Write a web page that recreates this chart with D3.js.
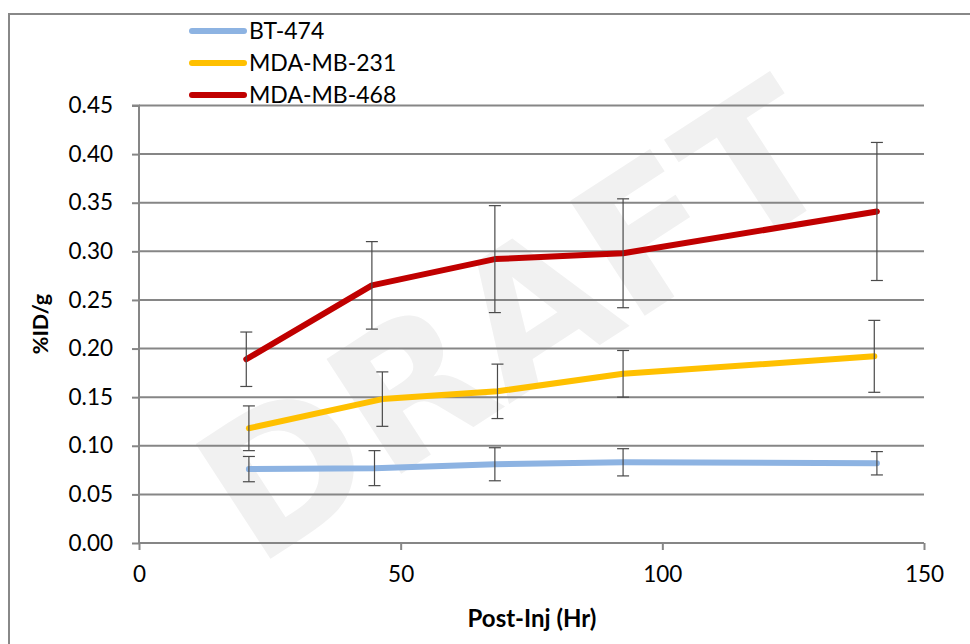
<!DOCTYPE html>
<html><head><meta charset="utf-8">
<script src="https://cdn.jsdelivr.net/npm/d3@7"></script>
<style>body{margin:0;background:#fff;} svg{display:block;} text{font-family:Lato,"Open Sans",sans-serif;}</style>
</head><body>
<svg id="chart" width="970" height="644"></svg>
<script>
const seriesNames = ["BT-474", "MDA-MB-231", "MDA-MB-468"];
const seriesColors = ["#8DB3E2", "#FFC000", "#C00000"];
const hoursBT474 = [21, 45, 68, 92.5, 141];
const hours231 = [21, 46.5, 68.5, 92.5, 140.5];
const hours468 = [20.5, 44.5, 68, 92.5, 141];
const valuesBT474 = [0.076, 0.077, 0.081, 0.083, 0.082];
const values231 = [0.118, 0.148, 0.156, 0.174, 0.192];
const values468 = [0.189, 0.265, 0.292, 0.298, 0.341];
const errBT474 = [0.013, 0.018, 0.017, 0.014, 0.012];
const err231 = [0.023, 0.028, 0.028, 0.024, 0.037];
const err468 = [0.028, 0.045, 0.055, 0.056, 0.071];
const xTicks = [0, 50, 100, 150];
const yTicks = [0, 0.05, 0.10, 0.15, 0.20, 0.25, 0.30, 0.35, 0.40, 0.45];
const xTitle = "Post-Inj (Hr)";
const yTitle = "%ID/g";
const watermark = "DRAFT";

const series = [
  {name: seriesNames[0], color: seriesColors[0], x: hoursBT474, y: valuesBT474, e: errBT474},
  {name: seriesNames[1], color: seriesColors[1], x: hours231, y: values231, e: err231},
  {name: seriesNames[2], color: seriesColors[2], x: hours468, y: values468, e: err468}
];

const svg = d3.select("#chart");
const x = d3.scaleLinear().domain([0, 150]).range([139, 924]);
const y = d3.scaleLinear().domain([0, 0.45]).range([543, 105.5]);

// watermark (faint, kept inside the page)
svg.append("text").text(watermark)
  .attr("transform", "translate(515,322) rotate(-33)")
  .attr("text-anchor", "middle").attr("dominant-baseline", "central")
  .style("font-family", "'DejaVu Sans',sans-serif").style("font-weight", "bold")
  .style("font-size", "188px").attr("fill", "#f1f1f1");

// outer border
svg.append("rect").attr("x", 9).attr("y", 14).attr("width", 980).attr("height", 660)
  .attr("fill", "none").attr("stroke", "#888").attr("stroke-width", 2);

// gridlines
svg.append("g").selectAll("line").data(yTicks.slice(1)).join("line")
  .attr("x1", x(0)).attr("x2", x(150)).attr("y1", d => y(d)).attr("y2", d => y(d))
  .attr("stroke", "#868686").attr("stroke-width", 2);

// y axis
const yAxis = svg.append("g").attr("transform", `translate(${x(0)},0)`)
  .call(d3.axisLeft(y).tickValues(yTicks).tickFormat(d3.format(".2f")).tickSize(7).tickPadding(19));
yAxis.select(".domain").attr("stroke", "#868686").attr("stroke-width", 2).attr("d", `M-7,${y(0.45)}H0V${y(0)}`);
yAxis.selectAll(".tick line").attr("stroke", "#868686").attr("stroke-width", 2);
yAxis.selectAll(".tick text").style("font-size", "22.5px").attr("fill", "#000");

// x axis
const xAxis = svg.append("g").attr("transform", `translate(0,${y(0)})`)
  .call(d3.axisBottom(x).tickValues(xTicks).tickFormat(d3.format("d")).tickSize(7).tickPadding(16));
xAxis.select(".domain").attr("stroke", "#868686").attr("stroke-width", 2).attr("d", `M${x(0)},0H${x(150)}`);
xAxis.selectAll(".tick line").attr("stroke", "#868686").attr("stroke-width", 2);
xAxis.selectAll(".tick text").style("font-size", "22.5px").attr("fill", "#000");

// lines
const line = d3.line().x(d => x(d[0])).y(d => y(d[1]));
series.forEach(s => {
  svg.append("path").datum(s.x.map((xv, i) => [xv, s.y[i]]))
    .attr("d", line).attr("fill", "none").attr("stroke", s.color)
    .attr("stroke-width", 6).attr("stroke-linecap", "round").attr("stroke-linejoin", "round");
});

// error bars (drawn on top, as in the reference)
series.forEach(s => {
  const g = svg.append("g");
  const pts = s.x.map((xv, i) => ({x: xv, y: s.y[i], e: s.e[i]}));
  g.selectAll("line.v").data(pts).join("line").attr("class", "v")
    .attr("x1", d => x(d.x)).attr("x2", d => x(d.x))
    .attr("y1", d => y(d.y + d.e)).attr("y2", d => y(d.y - d.e))
    .attr("stroke", "#4a4a4a").attr("stroke-width", 1.2);
  ["t", "b"].forEach(k => {
    g.selectAll("line.c" + k).data(pts).join("line").attr("class", "c" + k)
      .attr("x1", d => x(d.x) - 6).attr("x2", d => x(d.x) + 6)
      .attr("y1", d => y(k === "t" ? d.y + d.e : d.y - d.e))
      .attr("y2", d => y(k === "t" ? d.y + d.e : d.y - d.e))
      .attr("stroke", "#4a4a4a").attr("stroke-width", 1.2);
  });
});

// legend
const legendY = d3.scalePoint().domain(seriesNames).range([31, 95]);
const lg = svg.append("g");
series.forEach(s => {
  lg.append("line").attr("x1", 192).attr("x2", 244)
    .attr("y1", legendY(s.name)).attr("y2", legendY(s.name))
    .attr("stroke", s.color).attr("stroke-width", 6).attr("stroke-linecap", "round");
  lg.append("text").attr("x", 249).attr("y", legendY(s.name)).attr("dy", "0.35em")
    .style("font-size", "23px").attr("fill", "#000").text(s.name);
});

// axis titles
svg.append("text").text(yTitle).attr("transform", "translate(48,324) rotate(-90)")
  .attr("text-anchor", "middle").style("font-size", "21.5px").style("font-weight", "bold");
svg.append("text").text(xTitle).attr("x", 532).attr("y", 627)
  .attr("text-anchor", "middle").style("font-size", "24px").style("font-weight", "bold");
</script>
</body></html>
